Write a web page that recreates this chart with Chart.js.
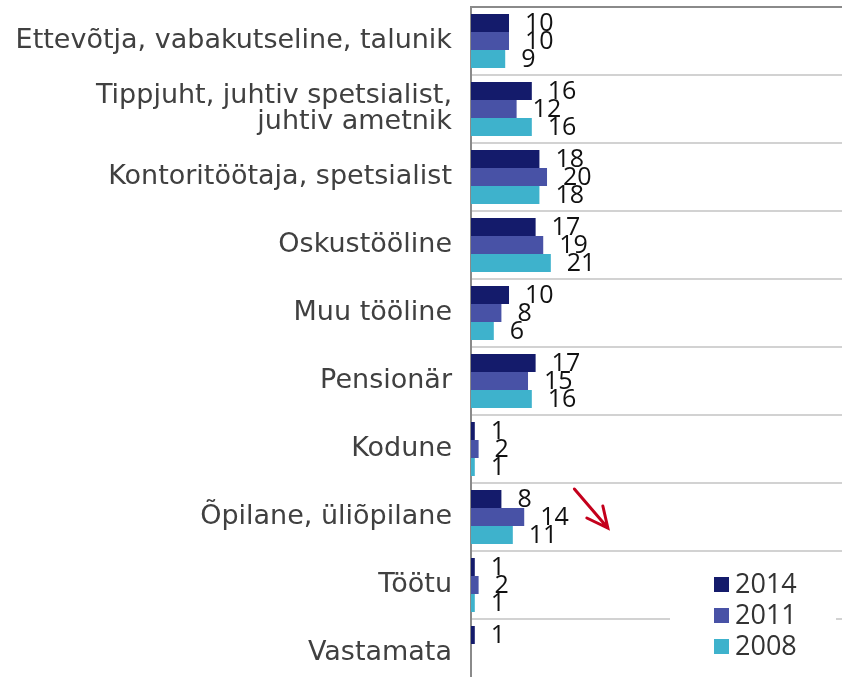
<!DOCTYPE html>
<html>
<head>
<meta charset="utf-8">
<script src="https://cdn.jsdelivr.net/npm/chart.js@4.4.1/dist/chart.umd.min.js"></script>
<style>
  html, body { margin: 0; padding: 0; background: #fff; }
  #wrap { width: 842px; height: 677px; overflow: hidden; position: relative; }
  #wrap canvas { display: block; }
</style>
</head>
<body>
<div id="wrap"><canvas id="container" width="842" height="688"></canvas></div>
<script>
"use strict";

// categories (top to bottom)
const categories = [
    "Ettevõtja, vabakutseline, talunik",
    ["Tippjuht, juhtiv spetsialist,", "juhtiv ametnik"],
    "Kontoritöötaja, spetsialist",
    "Oskustööline",
    "Muu tööline",
    "Pensionär",
    "Kodune",
    "Õpilane, üliõpilane",
    "Töötu",
    "Vastamata"
];

const seriesNames = ["2014", "2011", "2008"];
const values2014 = [10, 16, 18, 17, 10, 17, 1, 8, 1, 1];
const values2011 = [10, 12, 20, 19, 8, 15, 2, 14, 2, null];
const values2008 = [9, 16, 18, 21, 6, 16, 1, 11, 1, null];
const colors = ["#141b6b", "#4852a6", "#3eb2cc"];

// value labels next to bar ends
const valueLabels = {
    id: "valueLabels",
    afterDatasetsDraw(chart) {
        const c = chart.ctx;
        c.save();
        c.font = "25px 'Open Sans'";
        c.fillStyle = "#111";
        c.textAlign = "left";
        c.textBaseline = "middle";
        chart.data.datasets.forEach((ds, i) => {
            const meta = chart.getDatasetMeta(i);
            meta.data.forEach((bar, j) => {
                const v = ds.data[j];
                if (v === null || v === undefined) return;
                c.fillText(String(v), bar.x + 16, bar.y + 1);
            });
        });
        c.restore();
    }
};

// legend box + red arrow
const extras = {
    id: "extras",
    afterDraw(chart) {
        const c = chart.ctx;
        const x = chart.scales.x, y = chart.scales.y;
        const area = chart.chartArea;

        // red arrow at Õpilane, üliõpilane
        const yc = y.getPixelForValue(7);
        const x0 = x.getPixelForValue(27.2), y0 = yc - 28;
        const x1 = x.getPixelForValue(36), y1 = yc + 11;
        c.save();
        c.strokeStyle = "#c4001c";
        c.lineWidth = 3;
        c.lineCap = "round";
        c.beginPath();
        c.moveTo(x0, y0); c.lineTo(x1, y1);
        c.moveTo(x1 - 21, y1 - 10); c.lineTo(x1, y1); c.lineTo(x1 - 5, y1 - 22);
        c.stroke();
        c.restore();

        // legend
        const lx = area.right - 128;
        const ly = y.getPixelForValue(8) - 1;
        c.save();
        c.fillStyle = "#fff";
        c.fillRect(lx - 44, ly - 16, 166, 82);
        c.font = "27px 'Open Sans'";
        c.textAlign = "left";
        c.textBaseline = "middle";
        seriesNames.forEach((name, i) => {
            const cy = ly + i * 31;
            c.fillStyle = colors[i];
            c.fillRect(lx, cy - 7, 15, 15);
            c.fillStyle = "#333";
            c.fillText(name, lx + 21, cy + 1);
        });
        c.restore();
    }
};

const ctx = document.getElementById("container").getContext("2d");
const dataChart = new Chart(ctx, {
    type: "bar",
    data: {
        labels: categories,
        datasets: [
            { label: seriesNames[0], data: values2014, backgroundColor: colors[0] },
            { label: seriesNames[1], data: values2011, backgroundColor: colors[1] },
            { label: seriesNames[2], data: values2008, backgroundColor: colors[2] }
        ]
    },
    options: {
        indexAxis: "y",
        responsive: false,
        animation: false,
        categoryPercentage: 0.795,
        barPercentage: 1.0,
        layout: { padding: { top: 7, bottom: 1, left: 0, right: 0 } },
        plugins: {
            legend: { display: false },
            tooltip: { enabled: false }
        },
        scales: {
            x: {
                display: false,
                min: 0,
                max: 97.6
            },
            y: {
                afterFit(scale) {
                    scale.width = 471;
                    scale.paddingTop = 0;
                    scale.paddingBottom = 0;
                },
                border: { display: true, color: "#8a8a8a", width: 2 },
                grid: {
                    offset: true,
                    drawTicks: false,
                    color: (c) => c.index === 0 ? "#8a8a8a" : "#d2d2d2",
                    lineWidth: 2
                },
                ticks: {
                    padding: 19,
                    color: "#404040",
                    font: { family: "'DejaVu Sans'", size: 27, lineHeight: 0.93 }
                }
            }
        }
    },
    plugins: [valueLabels, extras]
});
</script>
</body>
</html>
